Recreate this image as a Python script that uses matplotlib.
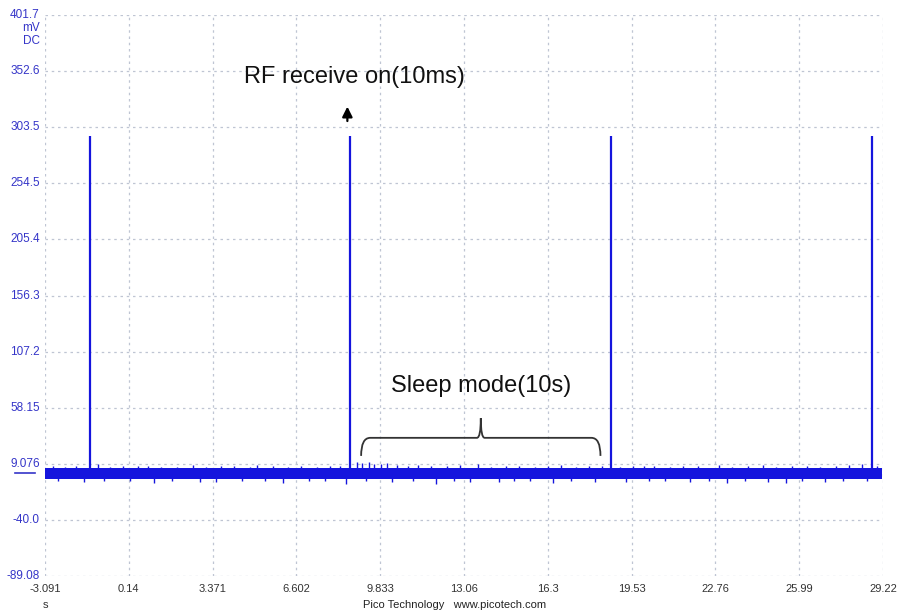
import numpy as np
import matplotlib.pyplot as plt
from matplotlib.path import Path
from matplotlib.patches import PathPatch
from matplotlib.lines import Line2D

plt.rcParams['font.family'] = ['Liberation Sans', 'DejaVu Sans']

# scope window
x_min, x_max = -3.091, 29.22
y_min, y_max = -89.08, 401.7
x_ticks = [-3.091, 0.14, 3.371, 6.602, 9.833, 13.06, 16.3, 19.53, 22.76, 25.99, 29.22]
x_labels = ["-3.091", "0.14", "3.371", "6.602", "9.833", "13.06", "16.3", "19.53", "22.76", "25.99", "29.22"]
y_ticks = [-89.08, -40.0, 9.076, 58.15, 107.2, 156.3, 205.4, 254.5, 303.5, 352.6, 401.7]
y_labels = ["-89.08", "-40.0", "9.076", "58.15", "107.2", "156.3", "205.4", "254.5", "303.5", "352.6", "401.7"]

# receiver wake-up pulses (s, mV)
pulse_times = [-1.35, 8.69, 18.72, 28.80]
pulse_peak = [296.0, 296.0, 296.0, 296.0]

# sleep current: flat core band plus short noise excursions (mV)
trace_start, trace_end = -3.091, 29.18
core_low, core_high = -4.6, 5.6
up_times = [-2.8, -2.3, -1.9, -1.05, -0.6, -0.1, 0.5, 0.9, 1.4, 2.0, 2.6, 3.1, 3.7,
            4.2, 4.8, 5.1, 5.7, 6.3, 6.8, 7.4, 7.9, 8.3, 8.95, 9.15, 9.4, 9.6, 9.85,
            10.1, 10.5, 10.9, 11.3, 11.8, 12.4, 12.9, 13.6, 14.1, 14.7, 15.2, 15.8,
            16.3, 16.8, 17.4, 17.9, 18.4, 19.1, 19.6, 20.0, 20.4, 21.0, 21.5, 22.1,
            22.9, 23.4, 24.0, 24.6, 25.1, 25.7, 26.3, 26.8, 27.4, 27.9, 28.4, 29.0]
up_tops = [7.1, 6.6, 7.4, 8.5, 6.5, 6.9, 7.2, 7.5, 6.7, 6.5, 7.6, 6.6, 7.0,
           6.8, 6.6, 7.8, 6.9, 6.5, 7.1, 6.7, 6.9, 7.3, 10.5, 9.8, 10.4, 9.2, 8.8,
           9.5, 8.4, 7.0, 8.2, 6.8, 7.1, 7.7, 9.0, 6.6, 6.9, 7.5, 6.6, 7.1,
           7.9, 6.7, 7.0, 7.4, 6.5, 7.1, 6.8, 7.5, 6.6, 6.9, 7.2, 7.6, 6.6, 6.9,
           7.8, 6.7, 7.1, 7.5, 6.6, 7.0, 8.3, 8.6, 7.3]
down_times = [-2.6, -1.6, -0.8, 0.2, 1.1, 1.8, 2.9, 3.5, 4.5, 5.4, 6.1, 7.1, 7.7,
              8.5, 9.3, 10.3, 11.1, 12.0, 12.7, 13.3, 14.4, 15.0, 15.6, 16.5,
              17.2, 18.1, 19.3, 20.2, 20.8, 21.8, 22.5, 23.2, 23.9, 24.8, 25.5,
              26.1, 27.0, 27.7, 28.6]
down_bottoms = [-6.0, -6.8, -5.7, -6.2, -7.6, -5.8, -6.4, -7.0, -5.9, -6.1, -7.3,
                -6.0, -5.8, -8.4, -6.3, -6.7, -5.9, -8.6, -6.1, -6.5, -7.0, -5.8,
                -6.2, -7.9, -6.0, -6.6, -7.2, -6.1, -5.9, -6.9, -6.3, -7.8, -6.0,
                -6.5, -7.3, -6.1, -6.7, -5.9, -6.3]

fig = plt.figure(figsize=(9.01, 6.12), dpi=100)
ax = fig.add_axes([0.0499, 0.0588, 0.9300, 0.9167])

trace_color = '#1515dd'
ax.fill_between([trace_start, trace_end], [core_low, core_low], [core_high, core_high],
                color=trace_color, lw=0, zorder=3)
ax.vlines(up_times, 0, up_tops, color=trace_color, lw=1.0, zorder=3)
ax.vlines(down_times, down_bottoms, 0, color=trace_color, lw=1.0, zorder=3)
ax.vlines(pulse_times, 0, pulse_peak, color=trace_color, lw=1.6, zorder=4)

ax.set_xlim(x_min, x_max)
ax.set_ylim(y_min, y_max)
ax.set_xticks(x_ticks)
ax.set_yticks(y_ticks)
ax.set_xticklabels([])
ax.set_yticklabels([])
ax.tick_params(length=0)
for s in ax.spines.values():
    s.set_visible(False)
ax.grid(True, color='#bfc5d3', linestyle=(0, (2, 3)), lw=0.9, zorder=0)

# tick labels placed like the scope software does
for xv, lab in zip(x_ticks, x_labels):
    ax.text(xv, -0.0232, lab, transform=ax.get_xaxis_transform(), ha='center', va='center',
            fontsize=8, color='#333333')
for yv, lab in zip(y_ticks, y_labels):
    ax.text(-0.006, yv, lab, transform=ax.get_yaxis_transform(), ha='right', va='center',
            fontsize=8.5, color='#3535c8')
fig.text(0.0444, 1 - 28 / 612, "mV", ha='right', va='center', fontsize=8.5, color='#3535c8')
fig.text(0.0444, 1 - 41 / 612, "DC", ha='right', va='center', fontsize=8.5, color='#3535c8')
fig.add_artist(Line2D([15 / 901, 35 / 901], [1 - 473 / 612, 1 - 473 / 612],
                      color='#3535c8', lw=1.2))
fig.text(45 / 901, 1 - 605 / 612, "s", ha='center', va='center', fontsize=8, color='#333333')
fig.text(455 / 901, 1 - 605 / 612, "Pico Technology   www.picotech.com",
         ha='center', va='center', fontsize=8, color='#222222')

# annotations
ax.text(8.84, 347.4, "RF receive on(10ms)", ha='center', va='center', fontsize=17, color='#111111')
ax.annotate('', xy=(8.57, 324.0), xytext=(8.57, 306.5),
            arrowprops=dict(arrowstyle='-|>', color='black', lw=1.6, mutation_scale=15))
ax.text(13.74, 77.4, "Sleep mode(10s)", ha='center', va='center', fontsize=17, color='#111111')

# curly brace over the sleep interval
b0, b1 = 9.10, 18.33
bc = (b0 + b1) / 2
y_tip, y_bar, y_peak = 16.0, 31.8, 49.0
verts = [(b0, y_tip), (b0, y_bar), (b0 + 0.35, y_bar),
         (bc - 0.15, y_bar), (bc, y_bar), (bc, y_peak),
         (bc, y_bar), (bc + 0.15, y_bar),
         (b1 - 0.35, y_bar), (b1, y_bar), (b1, y_tip)]
codes = [Path.MOVETO, Path.CURVE3, Path.CURVE3,
         Path.LINETO, Path.CURVE3, Path.CURVE3,
         Path.CURVE3, Path.CURVE3,
         Path.LINETO, Path.CURVE3, Path.CURVE3]
ax.add_patch(PathPatch(Path(verts, codes), fill=False, edgecolor='#333333', lw=1.3, zorder=5))

fig.savefig('out.png', dpi=100)
